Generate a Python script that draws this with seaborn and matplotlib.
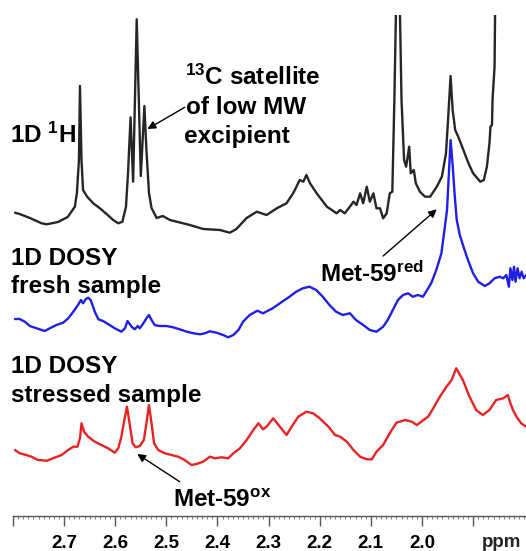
import numpy as np
import pandas as pd
import matplotlib
matplotlib.use("Agg")
import matplotlib.pyplot as plt
from matplotlib.ticker import MultipleLocator, FixedLocator, FixedFormatter
import matplotlib.transforms as mtransforms
import seaborn as sns

# ---------------- data ----------------
# 1D 1H spectrum (black), intensity relative to its own baseline
h1_ppm = [2.796, 2.787, 2.767, 2.744, 2.734, 2.712, 2.693, 2.679, 2.675, 2.671,
          2.669, 2.666, 2.663, 2.655, 2.643, 2.630, 2.617, 2.604, 2.594, 2.586,
          2.579, 2.575, 2.570, 2.565, 2.558, 2.550, 2.543, 2.539, 2.534, 2.529,
          2.519, 2.507, 2.493, 2.454, 2.428, 2.395, 2.376, 2.363, 2.343, 2.323,
          2.304, 2.284, 2.265, 2.252, 2.239, 2.232, 2.226, 2.219, 2.206, 2.186,
          2.167, 2.160, 2.151, 2.141, 2.134, 2.128, 2.121, 2.115, 2.108, 2.102,
          2.095, 2.089, 2.082, 2.076, 2.069, 2.063, 2.058, 2.054, 2.051, 2.047,
          2.043, 2.040, 2.035, 2.031, 2.025, 2.022, 2.016, 2.012, 2.004, 1.994,
          1.984, 1.971, 1.961, 1.953, 1.949, 1.944, 1.940, 1.935, 1.929, 1.919,
          1.909, 1.900, 1.886, 1.879, 1.873, 1.868, 1.866, 1.863, 1.862, 1.858,
          1.857, 1.853]
h1_int = [23.3, 22, 18, 12.7, 11.7, 14, 19, 29.3, 43, 76,
          150, 76, 46, 39.3, 32.7, 27.7, 22, 16, 12.7, 14.3,
          29.3, 63, 118.7, 54.3, 216.7, 60, 130, 86, 43, 28,
          18, 20, 16, 11, 7, 6, 3.3, 7, 18, 24.3,
          21, 27.7, 32.7, 42.7, 56, 54.3, 61, 52.7, 42.7, 29.3,
          22.7, 26, 22.7, 29.3, 34.3, 31, 42.7, 32.7, 49.3, 34.3,
          42.7, 27.7, 27.7, 17.7, 22.7, 42.7, 44.3, 136, 221, 420,
          221, 136, 76, 69.3, 89.3, 62.7, 66, 52.7, 44.3, 39.3,
          39.3, 49.3, 59.3, 82.7, 116, 160, 126, 106, 99.3, 86,
          72.7, 62.7, 54.3, 56, 69.3, 92.7, 109.3, 111, 136, 169.3,
          221, 300]

# 1D DOSY, fresh sample (blue)
fresh_ppm = [2.796, 2.787, 2.777, 2.767, 2.754, 2.738, 2.728, 2.715, 2.702, 2.692,
             2.682, 2.673, 2.667, 2.663, 2.658, 2.653, 2.648, 2.640, 2.633, 2.624,
             2.611, 2.601, 2.588, 2.581, 2.576, 2.568, 2.562, 2.556, 2.552, 2.545,
             2.539, 2.534, 2.529, 2.523, 2.513, 2.500, 2.487, 2.474, 2.460, 2.447,
             2.434, 2.425, 2.415, 2.402, 2.389, 2.379, 2.369, 2.359, 2.350, 2.337,
             2.322, 2.311, 2.292, 2.278, 2.259, 2.246, 2.233, 2.220, 2.207, 2.194,
             2.181, 2.168, 2.155, 2.141, 2.129, 2.115, 2.102, 2.089, 2.076, 2.067,
             2.057, 2.047, 2.037, 2.027, 2.018, 2.008, 1.998, 1.992, 1.982, 1.972,
             1.962, 1.956, 1.951, 1.947, 1.944, 1.940, 1.936, 1.932, 1.926, 1.918,
             1.910, 1.900, 1.890, 1.877, 1.868, 1.858, 1.848, 1.841, 1.835, 1.830,
             1.827, 1.823, 1.820, 1.817, 1.813, 1.809, 1.805, 1.801, 1.796]
fresh_int = [17, 17, 14.3, 10, 7.7, 5, 7.7, 11, 13.3, 17.7,
             24.3, 31, 36, 32.7, 36.7, 38.3, 36, 24.3, 16.7, 15,
             11, 7.7, 4.3, 7.7, 15, 9.3, 6.7, 10, 7.7, 12.7,
             17.7, 21, 16, 11, 10, 10, 8.7, 6.7, 4.3, 2.7,
             1.7, 2.7, 4.7, 3.3, 1, -1.3, 1, 6, 14.3, 21,
             25.3, 22.7, 27.7, 32.7, 39.3, 44.3, 47.7, 49.3, 46, 39.3,
             31, 24.3, 21, 22.7, 16, 11, 6, 4.3, 9.3, 16,
             26, 36, 41, 42.7, 39.3, 41, 39.3, 44.3, 52.7, 66,
             82.7, 106, 126, 166, 196, 171, 141, 116, 101, 88,
             76, 62.7, 54.3, 50, 52.7, 57.7, 59.3, 57.7, 61, 49.3,
             67.7, 56, 69.3, 54.3, 67.7, 57.7, 64.3, 57.7, 61]

# 1D DOSY, stressed sample (red)
stressed_ppm = [2.796, 2.787, 2.774, 2.764, 2.751, 2.734, 2.722, 2.705, 2.692, 2.682,
                2.674, 2.669, 2.666, 2.661, 2.653, 2.640, 2.627, 2.614, 2.601, 2.594,
                2.588, 2.581, 2.577, 2.571, 2.566, 2.560, 2.552, 2.544, 2.539, 2.534,
                2.529, 2.524, 2.516, 2.503, 2.490, 2.477, 2.464, 2.451, 2.441, 2.428,
                2.415, 2.405, 2.392, 2.379, 2.369, 2.356, 2.343, 2.330, 2.320, 2.311,
                2.304, 2.291, 2.278, 2.265, 2.255, 2.242, 2.226, 2.213, 2.200, 2.183,
                2.170, 2.160, 2.147, 2.134, 2.121, 2.108, 2.098, 2.089, 2.076, 2.063,
                2.050, 2.033, 2.020, 2.010, 1.997, 1.988, 1.978, 1.965, 1.952, 1.942,
                1.933, 1.920, 1.907, 1.894, 1.881, 1.868, 1.855, 1.841, 1.832, 1.827,
                1.822, 1.815, 1.806, 1.796]
stressed_int = [16, 12.7, 11, 9.3, 6, 5.3, 7.7, 11, 16, 19.3,
                19.3, 27.7, 42.7, 34.3, 29.3, 24.3, 21, 17.7, 13.3, 17.7,
                29.3, 49.3, 59.3, 39.3, 22.7, 18.7, 20, 26, 42.7, 61,
                42.7, 22.7, 16, 12.7, 11, 9.3, 6, 1, 2, 4.3,
                9.3, 7.7, 8.7, 7.7, 12.7, 17.7, 26, 36, 42.7, 36.7,
                39.3, 47.7, 39.3, 31, 39.3, 49.3, 54.3, 52.7, 47.7, 39.3,
                31, 29.3, 24.3, 16, 9.3, 6.7, 6.7, 14.3, 21, 32.7,
                43.3, 46, 44.3, 41, 46, 49.3, 57.7, 69.3, 79.3, 86,
                97.7, 86, 69.3, 56, 51, 56, 66, 67.7, 71, 62.7,
                56, 49.3, 42.7, 39.3]

trace_names = ["1H", "fresh", "stressed"]
trace_offsets = [280, 180, 50]
trace_colors = ["#262626", "#1f1fe6", "#e82222"]

tick_values = [2.8, 2.7, 2.6, 2.5, 2.4, 2.3, 2.2, 2.1, 2.0, 1.9]
tick_labels = ["", "2.7", "2.6", "2.5", "2.4", "2.3", "2.2", "2.1", "2.0", ""]

# ---------------- styling ----------------
sns.set_theme(style="white")
plt.rcParams["font.family"] = ["Liberation Sans", "DejaVu Sans"]
plt.rcParams["font.weight"] = "bold"
plt.rcParams["mathtext.fontset"] = "custom"
plt.rcParams["mathtext.rm"] = "Liberation Sans:bold"
plt.rcParams["mathtext.it"] = "Liberation Sans:bold"
plt.rcParams["mathtext.bf"] = "Liberation Sans:bold"
plt.rcParams["mathtext.default"] = "rm"

frames = []
for name, ppm, inten, off in zip(trace_names,
                                 [h1_ppm, fresh_ppm, stressed_ppm],
                                 [h1_int, fresh_int, stressed_int],
                                 trace_offsets):
    frames.append(pd.DataFrame({"ppm": ppm,
                                "y": np.asarray(inten) + off,
                                "trace": name}))
df = pd.concat(frames, ignore_index=True)

W, H = 526, 551
fig = plt.figure(figsize=(W / 100, H / 100), dpi=100)
fig.patch.set_facecolor("white")
ax = fig.add_axes([13 / W, (H - 516) / H, (W - 13) / W, 501 / H])
ax.set_facecolor("white")

sns.lineplot(data=df, x="ppm", y="y", hue="trace", hue_order=trace_names,
             palette=dict(zip(trace_names, trace_colors)), estimator=None,
             sort=False, legend=False, lw=1.7, ax=ax)

ax.set_xlim(2.8, 1.7965)
ax.set_ylim(0, 501)
ax.set_xlabel("")
ax.set_ylabel("")
ax.set_yticks([])
for s in ["left", "top", "right"]:
    ax.spines[s].set_visible(False)
ax.spines["bottom"].set_color("#555555")
ax.spines["bottom"].set_linewidth(1.0)

ax.xaxis.set_major_locator(FixedLocator(tick_values))
ax.xaxis.set_major_formatter(FixedFormatter(tick_labels))
ax.xaxis.set_minor_locator(MultipleLocator(0.01))
ax.tick_params(axis="x", which="both", bottom=True, top=False)
ax.tick_params(axis="x", which="major", direction="out", length=7.5, width=1.0,
               color="#555555", pad=6, labelsize=13.5, labelcolor="black")
ax.tick_params(axis="x", which="minor", direction="out", length=2.5, width=0.7,
               color="#777777")
for lab in ax.get_xticklabels():
    lab.set_fontweight("bold")

# "ppm" unit label placed in the tick-label row
lab_tr = mtransforms.blended_transform_factory(ax.transData, fig.transFigure)
ax.text(1.844, (H - 547) / H, "ppm", transform=lab_tr, ha="center",
        va="baseline", fontsize=13.5, fontweight="bold", clip_on=False)

fs = 17.5
kw = dict(fontsize=fs, fontweight="bold", color="black", va="baseline",
          ha="left", clip_on=False)
ax.text(2.806, 373, "1D $^{1}$H", **kw)
ax.text(2.464, 431, "$^{13}$C satellite", **kw)
ax.text(2.462, 402, "of low MW", **kw)
ax.text(2.466, 373, "excipient", **kw)
ax.text(2.803, 251, "1D DOSY", **kw)
ax.text(2.803, 223, "fresh sample", **kw)
ax.text(2.803, 143, "1D DOSY", **kw)
ax.text(2.803, 114, "stressed sample", **kw)
ax.text(2.200, 234, "Met-59$^{red}$", **kw)
ax.text(2.487, 9, "Met-59$^{ox}$", **kw)

arrow = dict(arrowstyle="-|>", color="black", lw=1.0, mutation_scale=12,
             shrinkA=0, shrinkB=0)
ax.annotate("", xy=(2.537, 387), xytext=(2.464, 408.7), arrowprops=arrow)
ax.annotate("", xy=(1.971, 306.7), xytext=(2.076, 260), arrowprops=arrow)
ax.annotate("", xy=(2.557, 62), xytext=(2.474, 34.3), arrowprops=arrow)

fig.savefig("out.png", dpi=100, facecolor="white")
